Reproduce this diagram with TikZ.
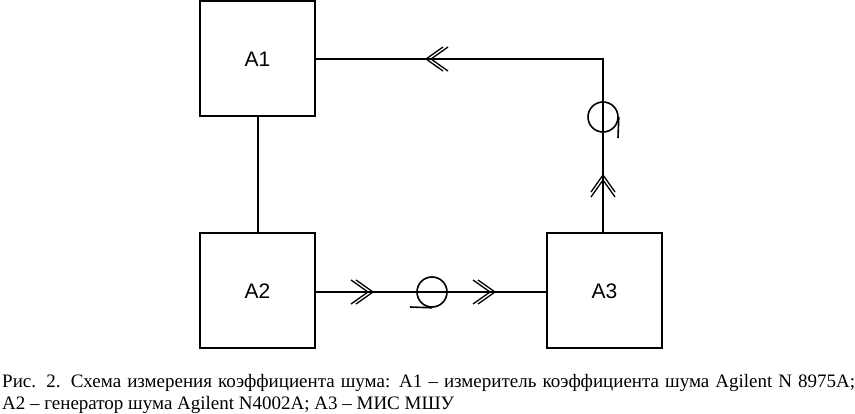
\documentclass[tikz,border=0pt]{standalone}
\usepackage{fontspec}
\setmainfont{Liberation Serif}
\newfontfamily\boxfont{Liberation Sans}
\usepackage{xcolor}
\tikzset{
	block/.style={draw, line width=2pt, minimum size=115pt, inner sep=0pt, font=\boxfont\fontsize{21}{24}\selectfont},
	link/.style={line width=2pt},
	coil/.style={draw, circle, line width=1.6pt, minimum size=30pt, inner sep=0pt},
	chevrons/.pic={
		\draw[line width=1.3pt] (-17,-12) -- (0,0) -- (-17,12);
		\draw[line width=1.3pt] (-22,-12) -- (-5,0) -- (-22,12);
	}
}

\begin{document}
\begin{tikzpicture}[x=1pt, y=-1pt]
		\useasboundingbox (0,0) rectangle (855,414);

		\node[block] (a1) at (257.5,59) {A1};
		\node[block] (a2) at (257.5,291) {A2};
		\node[block] (a3) at (604.5,291) {A3};

		\coordinate (corner) at (603,59);
		\coordinate (a3top) at (603,233);
		\node[coil] (coilb) at (432,292) {};
		\node[coil] (coilr) at (603,117) {};

		\draw[link] (a1) -- (a2);
		\draw[link] (a2.east |- 0,292) -- (a3.west |- 0,292);
		\draw[link] (a3top) -- (corner) -- (a1.east |- corner);

		% ends of the two coils
		\coordinate (tailb) at (410,307);
		\coordinate (tailr) at (618,138);
		\draw[line width=1.6pt] (tailb) -- (coilb.south);
		\draw[line width=1.6pt] (tailr) -- (coilr.east);

		\pic at (373,292) {chevrons};
		\pic at (495,292) {chevrons};
		\pic[rotate=180] at (426,59) {chevrons};
		\pic[rotate=90] at (603,175) {chevrons};

		\node[anchor=north west, inner sep=0pt, text width=853pt, align=justify, font=\fontsize{19}{22}\selectfont] (caption) at (2,374) {Рис. 2. Схема измерения коэффициента шума: А1 -- измеритель коэффициента шума Agilent N 8975A;\linebreak А2 -- генератор шума Agilent N4002A; А3 -- МИС МШУ};
	\end{tikzpicture}
\end{document}
